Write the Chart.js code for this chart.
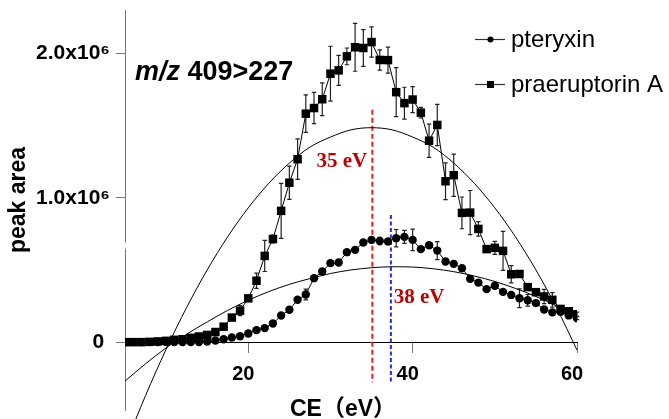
<!DOCTYPE html>
<html><head><meta charset="utf-8">
<script src="https://cdn.jsdelivr.net/npm/chart.js@4.4.1/dist/chart.umd.min.js"></script>
<style>html,body{margin:0;padding:0;background:#fff;overflow:hidden;}canvas{display:block;}</style>
</head><body>
<canvas id="c" width="669" height="419"></canvas>
<script>
// collision energy (eV)
const ceValues = [5,6,7,8,9,10,11,12,13,14,15,16,17,18,19,20,21,22,23,24,25,26,27,28,29,30,31,32,33,34,35,36,37,38,39,40,41,42,43,44,45,46,47,48,49,50,51,52,53,54,55,56,57,58,59,60];
// peak area, units of 10^6
const pteryxin = [0,0,0,0,0,0,0,0,0,0.001,0.004,0.011,0.02,0.032,0.041,0.06,0.083,0.097,0.129,0.184,0.224,0.293,0.33,0.443,0.489,0.547,0.551,0.623,0.639,0.69,0.708,0.70,0.697,0.72,0.729,0.708,0.644,0.671,0.634,0.558,0.542,0.512,0.438,0.412,0.367,0.39,0.348,0.327,0.304,0.29,0.27,0.226,0.206,0.21,0.185,0.166];
const pteryxinErr = [0,0,0,0,0,0,0,0,0,0,0,0,0,0,0,0,0,0,0,0,0,0,0.037,0,0,0,0,0,0,0.01,0.02,0.025,0.02,0.06,0.045,0.075,0.01,0.01,0.062,0.01,0.01,0.01,0.01,0.01,0.01,0.01,0.01,0.01,0.065,0.04,0.01,0.01,0.01,0.01,0.01,0.01];
const praeruptorinA = [0,0,0,0.002,0.005,0.009,0.016,0.02,0.03,0.039,0.05,0.07,0.107,0.17,0.218,0.303,0.425,0.597,0.714,0.909,1.104,1.267,1.582,1.621,1.682,1.859,1.882,1.979,2.042,2.037,2.078,1.954,1.953,1.731,1.655,1.68,1.589,1.395,1.504,1.114,1.156,0.895,0.897,0.784,0.644,0.653,0.632,0.47,0.472,0.381,0.346,0.316,0.293,0.23,0.214,0.193];
const praeruptorinAErr = [0,0,0,0,0,0,0,0,0,0,0.01,0.015,0.01,0.01,0.035,0.02,0.053,0.108,0.027,0.19,0.115,0.14,0.13,0.108,0.113,0.19,0.104,0.058,0.166,0.127,0.105,0.07,0.09,0.17,0.11,0.09,0.037,0.115,0.143,0.127,0.146,0.11,0.153,0.05,0.02,0.045,0.135,0.06,0.02,0.02,0.02,0.05,0.05,0.02,0.015,0.015];
// fitted curves
const fitCE = [5,7.5,10,12.5,15,17.5,20,22.5,25,27.5,30,32.5,35,37.5,40,42.5,45,47.5,50,52.5,55,57.5,60];
const fitPteryxin = [-0.27,-0.15,-0.04,0.055,0.14,0.22,0.29,0.35,0.40,0.44,0.475,0.50,0.515,0.522,0.52,0.508,0.488,0.458,0.42,0.372,0.316,0.25,0.176];
const fitPraeruptorinA = [-0.72,-0.37,-0.05,0.24,0.50,0.73,0.93,1.10,1.24,1.35,1.42,1.47,1.485,1.47,1.42,1.35,1.24,1.10,0.93,0.73,0.50,0.24,-0.055];
const seriesNames = ['pteryxin','praeruptorin A'];
const xTicks = [20,40,60];
const yTicks = [0,1,2];
const yTickLabels = ['0 ','1.0x10\u2076','2.0x10\u2076'];
const optimumCE = [35.1, 37.35];
const optimumTop = [1.61, 0.88];
const optimumBottom = [-0.28, -0.28];
const optimumLabels = ['35 eV','38 eV'];
const optimumLabelAt = [[28.3, 1.213], [37.7, 0.27]];
const transitionLabel = ['m/z', ' 409>227'];
const xTitle = 'CE\uFF08eV\uFF09';
const yTitle = 'peak area';

const pts = (xs, ys) => xs.map((x, i) => ({x: x, y: ys[i]}));
const errSeries = [{ds: 2, err: pteryxinErr}, {ds: 3, err: praeruptorinAErr}];

const errorBars = {
  id: 'errorBars',
  beforeDatasetsDraw(chart) {
    const ctx = chart.ctx, xs = chart.scales.x, ys = chart.scales.y;
    ctx.save();
    ctx.strokeStyle = '#222'; ctx.lineWidth = 1.2;
    errSeries.forEach(s => {
      const vals = chart.data.datasets[s.ds].data;
      vals.forEach((p, i) => {
        const e = s.err[i]; if (!e) return;
        const px = xs.getPixelForValue(p.x);
        const t = ys.getPixelForValue(p.y + e), b = ys.getPixelForValue(p.y - e);
        ctx.beginPath();
        ctx.moveTo(px, t); ctx.lineTo(px, b);
        ctx.moveTo(px - 2.2, t); ctx.lineTo(px + 2.2, t);
        ctx.moveTo(px - 2.2, b); ctx.lineTo(px + 2.2, b);
        ctx.stroke();
      });
    });
    ctx.restore();
  }
};

const decor = {
  id: 'decor',
  afterDraw(chart) {
    const ctx = chart.ctx, xs = chart.scales.x, ys = chart.scales.y;
    const ca = chart.chartArea;
    ctx.save();
    // axis break
    ctx.fillStyle = '#fff';
    ctx.fillRect(ca.left - 2, ys.getPixelForValue(0.69), 4, 6);
    // y title
    ctx.fillStyle = '#000';
    ctx.font = 'bold 23px "Liberation Sans", Arial, sans-serif';
    ctx.textAlign = 'center'; ctx.textBaseline = 'middle';
    ctx.save(); ctx.translate(19, 200); ctx.rotate(-Math.PI / 2); ctx.fillText(yTitle, 0, 0); ctx.restore();
    // x title
    ctx.font = 'bold 23px "Liberation Sans", "Noto Sans CJK SC", Arial, sans-serif';
    ctx.textBaseline = 'alphabetic';
    ctx.fillText(xTitle, 343, 416);
    // transition label
    ctx.textAlign = 'left';
    ctx.font = 'italic bold 27px "Liberation Sans", Arial, sans-serif';
    ctx.fillText(transitionLabel[0], 135, 80);
    const w = ctx.measureText(transitionLabel[0]).width;
    ctx.font = 'bold 27px "Liberation Sans", Arial, sans-serif';
    ctx.fillText(transitionLabel[1], 135 + w, 80);
    // optimum labels
    ctx.fillStyle = '#c00000';
    ctx.font = 'bold 21px "Liberation Serif", "Times New Roman", serif';
    optimumLabels.forEach((t, i) => {
      ctx.fillText(t, xs.getPixelForValue(optimumLabelAt[i][0]), ys.getPixelForValue(optimumLabelAt[i][1]));
    });
    // legend
    const rows = [{y: 39.5, style: 'circle'}, {y: 84.5, style: 'rect'}];
    ctx.font = '24px "Liberation Sans", Arial, sans-serif';
    ctx.textBaseline = 'middle';
    rows.forEach((r, i) => {
      ctx.strokeStyle = '#333'; ctx.lineWidth = 1.2;
      ctx.beginPath(); ctx.moveTo(475, r.y); ctx.lineTo(505, r.y); ctx.stroke();
      ctx.fillStyle = '#000';
      if (r.style === 'circle') { ctx.beginPath(); ctx.arc(490.5, r.y, 3, 0, Math.PI * 2); ctx.fill(); }
      else ctx.fillRect(487, r.y - 3.5, 7, 7);
      ctx.fillText(seriesNames[i], 511, r.y + 1);
    });
    ctx.restore();
  }
};

const font = (size, weight) => ({family: '"Liberation Sans", Arial, sans-serif', size: size, weight: weight});

new Chart(document.getElementById('c'), {
  type: 'line',
  data: {
    datasets: [
      {label: 'fit ' + seriesNames[1], data: pts(fitCE, fitPraeruptorinA), borderColor: '#000', borderWidth: 1, pointRadius: 0, cubicInterpolationMode: 'monotone', clip: false},
      {label: 'fit ' + seriesNames[0], data: pts(fitCE, fitPteryxin), borderColor: '#000', borderWidth: 1, pointRadius: 0, cubicInterpolationMode: 'monotone', clip: false},
      {label: seriesNames[0], data: pts(ceValues, pteryxin), borderColor: '#000', borderWidth: 1, pointStyle: 'circle', pointRadius: 4.2, pointBackgroundColor: '#000', pointBorderColor: '#000', pointBorderWidth: 0, tension: 0},
      {label: seriesNames[1], data: pts(ceValues, praeruptorinA), borderColor: '#000', borderWidth: 1, pointStyle: 'rect', pointRadius: 6, pointBackgroundColor: '#000', pointBorderColor: '#000', pointBorderWidth: 0, tension: 0},
      {label: optimumLabels[0], data: [{x: optimumCE[0], y: optimumTop[0]}, {x: optimumCE[0], y: optimumBottom[0]}], borderColor: '#e0201c', borderWidth: 2, borderDash: [5, 3], pointRadius: 0, clip: false},
      {label: optimumLabels[1], data: [{x: optimumCE[1], y: optimumTop[1]}, {x: optimumCE[1], y: optimumBottom[1]}], borderColor: '#1e2ee6', borderWidth: 2, borderDash: [4, 2.5], pointRadius: 0, clip: false}
    ]
  },
  options: {
    responsive: false,
    animation: false,
    events: [],
    layout: {padding: {top: 10, bottom: 9, left: 0, right: 92}},
    plugins: {legend: {display: false}, tooltip: {enabled: false}},
    scales: {
      x: {
        type: 'linear', min: 5, max: 60, position: {y: 0},
        afterBuildTicks: s => { s.ticks = xTicks.map(v => ({value: v})); },
        afterFit: s => { s.paddingLeft = 0; s.paddingRight = 0; },
        ticks: {font: font(20, 'bold'), color: '#000', padding: 10, labelOffset: -5, maxRotation: 0, callback: v => String(v)},
        grid: {drawOnChartArea: false, drawTicks: true, tickLength: 10, color: '#777', tickWidth: 1},
        border: {display: true, color: '#000', width: 1}
      },
      y: {
        type: 'linear', min: -0.47, max: 2.3, position: 'left',
        afterBuildTicks: s => { s.ticks = yTicks.map(v => ({value: v})); },
        afterFit: s => { s.width = 125; s.paddingTop = 0; s.paddingBottom = 0; },
        ticks: {font: font(21, 'bold'), color: '#000', padding: 6, callback: v => yTickLabels[yTicks.indexOf(v)]},
        grid: {drawOnChartArea: false, drawTicks: true, tickLength: 9, color: '#777', tickWidth: 1},
        border: {display: true, color: '#777', width: 1}
      }
    }
  },
  plugins: [errorBars, decor]
});
</script>
</body></html>
